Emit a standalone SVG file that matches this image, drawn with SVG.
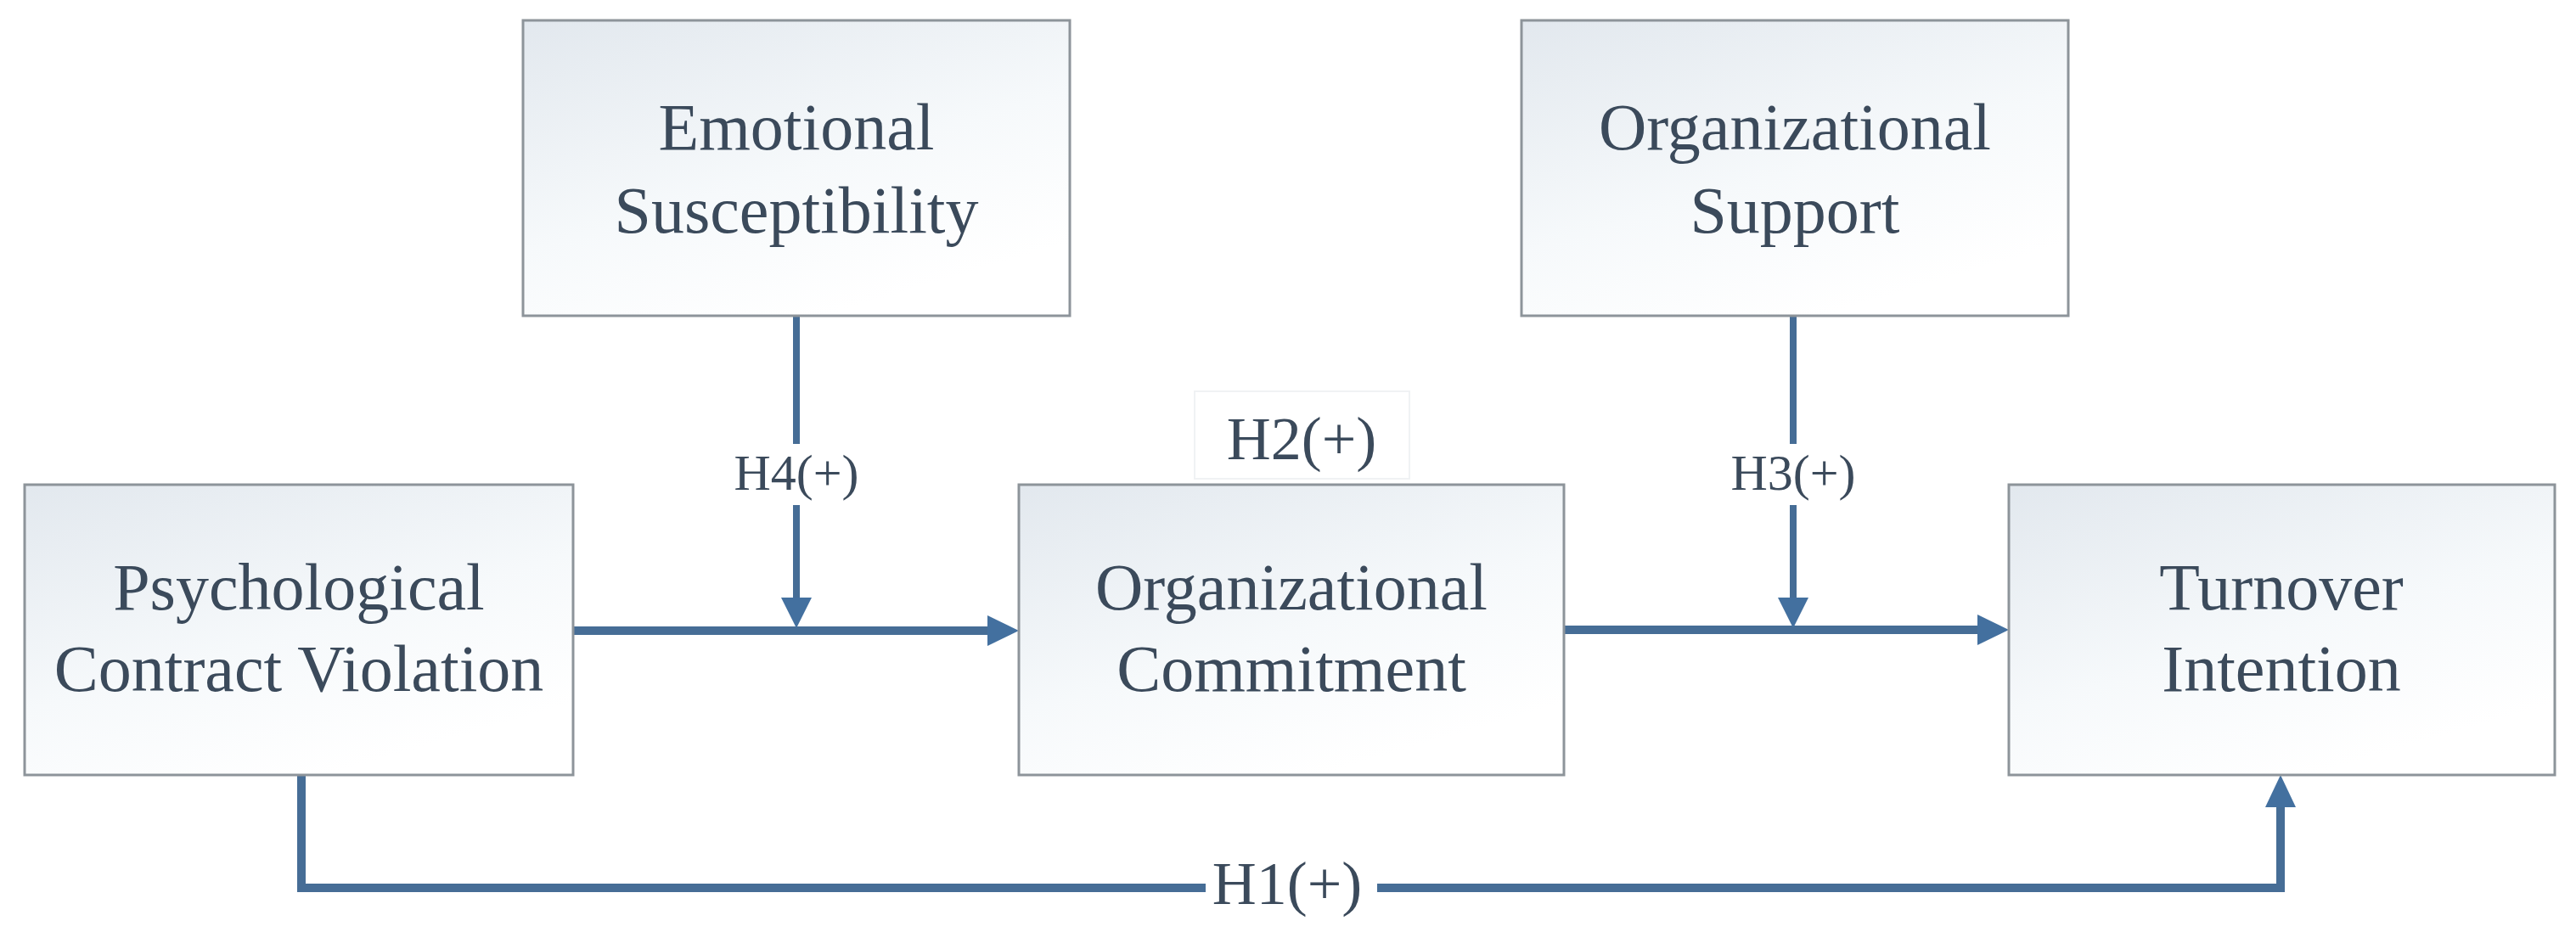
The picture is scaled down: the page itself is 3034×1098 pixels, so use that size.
<svg xmlns="http://www.w3.org/2000/svg" width="3034" height="1098" viewBox="0 0 3034 1098">
<style>
.box{fill:url(#bg);stroke:#8d949a;stroke-width:3}
.t{font-family:"Liberation Serif","Times New Roman",serif;fill:#3b4a5b;text-anchor:middle}
.n{font-size:78px}
.lb{font-size:60px}
.lb2{font-size:72px}
.ln{fill:none;stroke:#466d96;stroke-width:10}
.vl{fill:none;stroke:#466d96;stroke-width:8}
.ah{fill:#43709f}
</style>
<defs>
<linearGradient id="bg" x1="0" y1="0" x2="0.55" y2="1">
<stop offset="0" stop-color="#e2e8ee"/>
<stop offset="0.6" stop-color="#f6f9fb"/>
<stop offset="1" stop-color="#ffffff"/>
</linearGradient>
</defs>
<rect width="3034" height="1098" fill="#ffffff"/>

<g id="connectors">
<!-- PCV -> OC -->
<line class="ln" x1="675" y1="743" x2="1166" y2="743"/>
<polygon class="ah" points="1200,743 1163,725 1163,761"/>
<!-- OC -> TI -->
<line class="ln" x1="1842" y1="742" x2="2332" y2="742"/>
<polygon class="ah" points="2366,742 2329,724 2329,760"/>
<!-- H4 moderator -->
<line class="vl" x1="938" y1="372" x2="938" y2="708"/>
<polygon class="ah" points="938,740 920,704 956,704"/>
<!-- H3 moderator -->
<line class="vl" x1="2112" y1="372" x2="2112" y2="708"/>
<polygon class="ah" points="2112,740 2094,704 2130,704"/>
<!-- H1 -->
<polyline class="ln" points="355,913 355,1046 2686,1046 2686,948"/>
<polygon class="ah" points="2686,913 2668,951 2704,951"/>
</g>

<g id="node-pcv">
<rect class="box" x="29" y="571" width="646" height="342"/>
<text class="t n" x="352" y="718">Psychological</text>
<text class="t n" x="352" y="814">Contract Violation</text>
</g>
<g id="node-es">
<rect class="box" x="616" y="24" width="644" height="348"/>
<text class="t n" x="938" y="176">Emotional</text>
<text class="t n" x="938" y="274">Susceptibility</text>
</g>
<g id="node-oc">
<rect class="box" x="1200" y="571" width="642" height="342"/>
<text class="t n" x="1521" y="718">Organizational</text>
<text class="t n" x="1521" y="814">Commitment</text>
</g>
<g id="node-os">
<rect class="box" x="1792" y="24" width="644" height="348"/>
<text class="t n" x="2114" y="176">Organizational</text>
<text class="t n" x="2114" y="274">Support</text>
</g>
<g id="node-ti">
<rect class="box" x="2366" y="571" width="643" height="342"/>
<text class="t n" x="2687" y="718">Turnover</text>
<text class="t n" x="2687" y="814">Intention</text>
</g>

<g id="labels">
<g id="label-h4">
<rect x="862" y="523" width="152" height="72" fill="#ffffff"/>
<text class="t lb" x="938" y="577">H4(+)</text>
</g>
<g id="label-h3">
<rect x="2036" y="523" width="152" height="72" fill="#ffffff"/>
<text class="t lb" x="2112" y="577">H3(+)</text>
</g>
<g id="label-h2">
<rect x="1407" y="461" width="253" height="103" fill="#ffffff" stroke="#f0f2f4" stroke-width="2"/>
<text class="t lb2" x="1533" y="541">H2(+)</text>
</g>
<g id="label-h1">
<rect x="1420" y="994" width="202" height="80" fill="#ffffff"/>
<text class="t lb2" x="1516" y="1065">H1(+)</text>
</g>
</g>
</svg>
